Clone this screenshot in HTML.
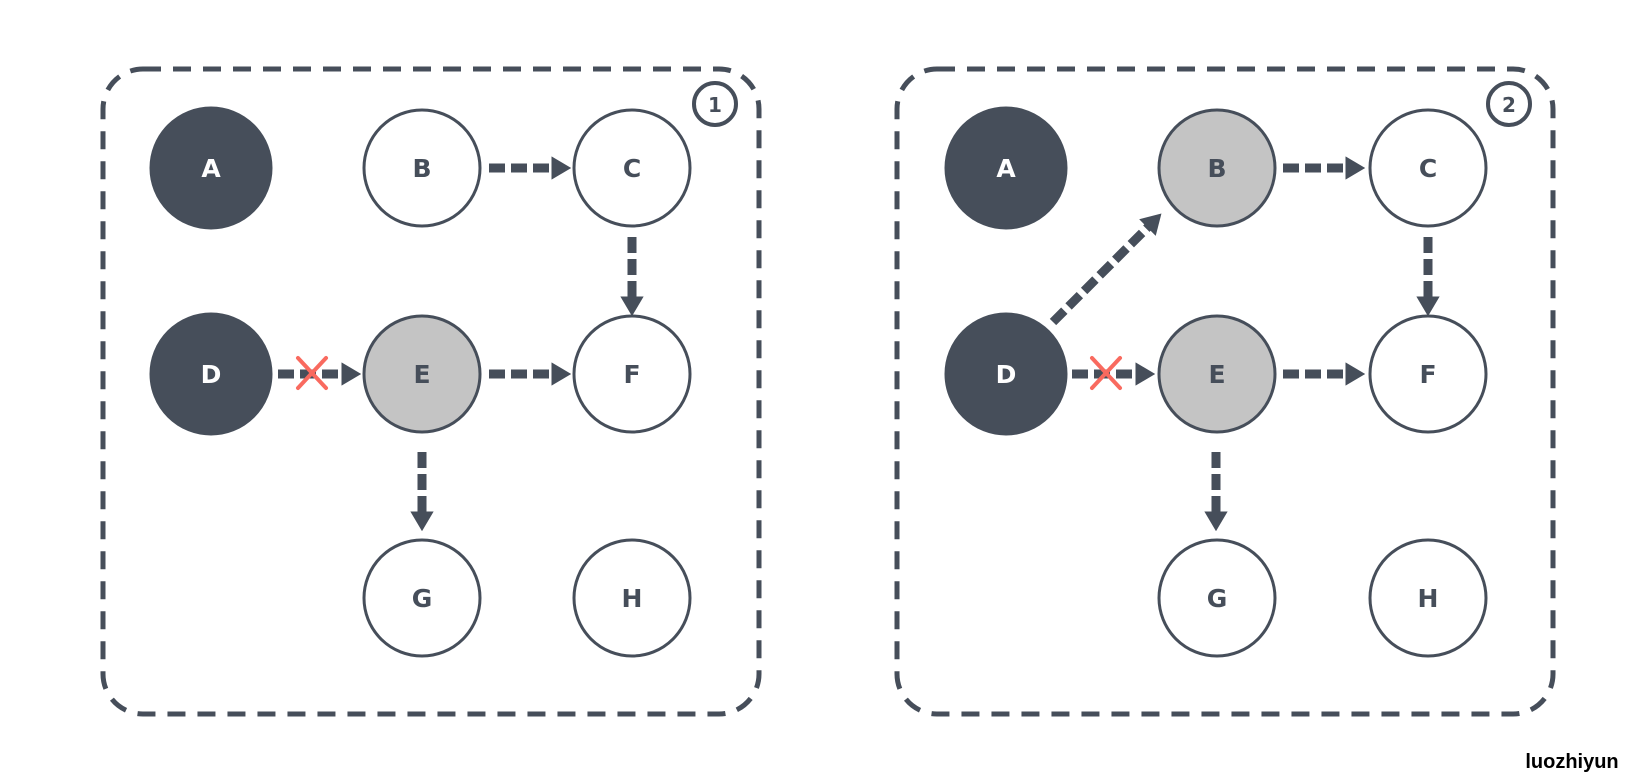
<!DOCTYPE html>
<html><head><meta charset="utf-8"><style>
html,body{margin:0;padding:0;background:#fff;}
svg{display:block;}
text{font-family:"DejaVu Sans","Liberation Sans",sans-serif;font-weight:bold;}
</style></head><body>
<svg width="1638" height="780" viewBox="0 0 1638 780" xmlns="http://www.w3.org/2000/svg">
<defs>
<marker id="ah" markerWidth="2.2" markerHeight="2.6" refX="0.4" refY="1.3" orient="auto" markerUnits="strokeWidth">
<path d="M0,0 L2.2,1.3 L0,2.6 z" fill="#464e5a"/>
</marker>
</defs>
<g fill="none" stroke="#464e5a" stroke-width="5" stroke-dasharray="18 12">
<rect x="103" y="69" width="656" height="645" rx="40"/>
<rect x="897" y="69" width="656" height="645" rx="40"/>
</g>
<g fill="none" stroke="#464e5a" stroke-width="4">
<circle cx="715" cy="104" r="21"/>
<circle cx="1509" cy="104" r="21"/>
</g>
<text x="715" y="112" font-size="20" text-anchor="middle" fill="#464e5a">1</text>
<text x="1509" y="112" font-size="20" text-anchor="middle" fill="#464e5a">2</text>

<g stroke="#464e5a" stroke-width="9" stroke-dasharray="16 6" fill="none" marker-end="url(#ah)">
<line x1="489" y1="168" x2="555" y2="168"/>
<line x1="632" y1="237" x2="632" y2="300"/>
<line x1="489" y1="374" x2="555" y2="374"/>
<line x1="278" y1="374" x2="345" y2="374"/>
<line x1="422" y1="452" x2="422" y2="515"/>
<line x1="1283" y1="168" x2="1349" y2="168"/>
<line x1="1428" y1="237" x2="1428" y2="300"/>
<line x1="1283" y1="374" x2="1349" y2="374"/>
<line x1="1072" y1="374" x2="1139" y2="374"/>
<line x1="1216" y1="452" x2="1216" y2="515"/>
<line x1="1053" y1="322" x2="1150" y2="225"/>
</g>

<g stroke="#464e5a" stroke-width="3">
<circle cx="211" cy="168" r="60" fill="#464e5a"/>
<circle cx="422" cy="168" r="58" fill="#fff"/>
<circle cx="632" cy="168" r="58" fill="#fff"/>
<circle cx="211" cy="374" r="60" fill="#464e5a"/>
<circle cx="422" cy="374" r="58" fill="#c4c4c4"/>
<circle cx="632" cy="374" r="58" fill="#fff"/>
<circle cx="422" cy="598" r="58" fill="#fff"/>
<circle cx="632" cy="598" r="58" fill="#fff"/>

<circle cx="1006" cy="168" r="60" fill="#464e5a"/>
<circle cx="1217" cy="168" r="58" fill="#c4c4c4"/>
<circle cx="1428" cy="168" r="58" fill="#fff"/>
<circle cx="1006" cy="374" r="60" fill="#464e5a"/>
<circle cx="1217" cy="374" r="58" fill="#c4c4c4"/>
<circle cx="1428" cy="374" r="58" fill="#fff"/>
<circle cx="1217" cy="598" r="58" fill="#fff"/>
<circle cx="1428" cy="598" r="58" fill="#fff"/>
</g>

<g stroke="#f96a5f" stroke-width="4" stroke-linecap="round">
<line x1="298" y1="358" x2="326" y2="388"/><line x1="326" y1="358" x2="298" y2="388"/>
<line x1="1092" y1="358" x2="1120" y2="388"/><line x1="1120" y1="358" x2="1092" y2="388"/>
</g>

<g font-size="25" text-anchor="middle">
<text x="211" y="177" fill="#fff">A</text>
<text x="422" y="177" fill="#464e5a">B</text>
<text x="632" y="177" fill="#464e5a">C</text>
<text x="211" y="383" fill="#fff">D</text>
<text x="422" y="383" fill="#464e5a">E</text>
<text x="632" y="383" fill="#464e5a">F</text>
<text x="422" y="607" fill="#464e5a">G</text>
<text x="632" y="607" fill="#464e5a">H</text>
<text x="1006" y="177" fill="#fff">A</text>
<text x="1217" y="177" fill="#464e5a">B</text>
<text x="1428" y="177" fill="#464e5a">C</text>
<text x="1006" y="383" fill="#fff">D</text>
<text x="1217" y="383" fill="#464e5a">E</text>
<text x="1428" y="383" fill="#464e5a">F</text>
<text x="1217" y="607" fill="#464e5a">G</text>
<text x="1428" y="607" fill="#464e5a">H</text>
</g>
<text x="1572" y="768" font-size="20" text-anchor="middle" fill="#000" style="font-family:'Liberation Sans',sans-serif">luozhiyun</text>
</svg>
</body></html>
